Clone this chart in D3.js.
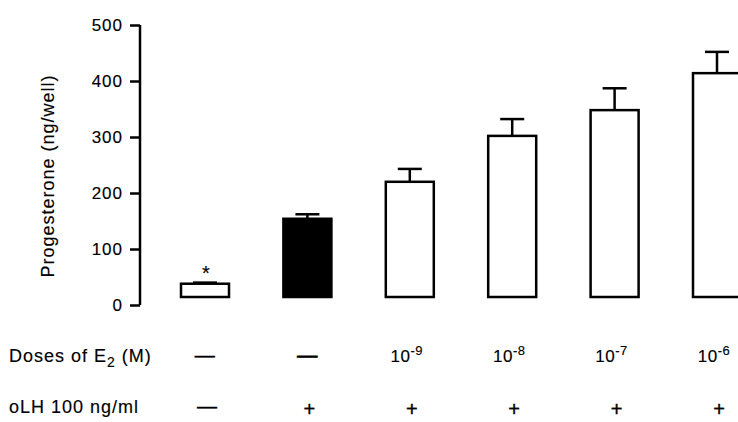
<!DOCTYPE html>
<html>
<head>
<meta charset="utf-8">
<script src="https://cdn.jsdelivr.net/npm/d3@7"></script>
<style>
  body { margin: 0; background: #fff; }
  svg { display: block; }
  text { font-family: "Liberation Sans", Arial, Helvetica, sans-serif; fill: #000; stroke: #000; stroke-width: 0.15px; }
</style>
</head>
<body>
<svg id="chart"></svg>
<script>
// data
const groups = ["ctrl", "LH", "E9", "E8", "E7", "E6"];
const progesterone = [38, 154, 220, 302, 348, 414];
const sem = [2, 8, 23, 30, 39, 38];
const filled = [false, true, false, false, false, false];
const yTicks = [0, 100, 200, 300, 400, 500];
const doseBase = ["—", "—", "10", "10", "10", "10"];
const doseExp = ["", "", "-9", "-8", "-7", "-6"];
const lhRow = ["—", "+", "+", "+", "+", "+"];

const width = 738, height = 422;
const svg = d3.select("#chart").attr("width", width).attr("height", height);

const x = d3.scalePoint().domain(groups).range([205, 717]);
const y = d3.scaleLinear().domain([0, 500]).range([305, 25]);
const barW = 48;
const barFloor = y(0) - 8; // bars sit a bit above the zero tick

// y axis
const axis = svg.append("g")
    .attr("transform", "translate(140,0)")
    .call(d3.axisLeft(y).tickValues(yTicks).tickSize(10).tickPadding(8));
axis.select(".domain").attr("stroke-width", 2.5).attr("d", "M0," + y(500) + "V" + y(0));
axis.selectAll(".tick line").attr("stroke-width", 2.5);
axis.selectAll(".tick text")
    .attr("font-size", 17)
    .style("letter-spacing", "1px")
    .attr("dx", 1)
    .attr("font-family", "Liberation Sans, Arial, sans-serif");

svg.append("text")
    .attr("transform", "translate(54,176) rotate(-90)")
    .attr("text-anchor", "middle")
    .attr("font-size", 18)
    .style("letter-spacing", "1px")
    .text("Progesterone (ng/well)");

// error bars (drawn first so the bar outline covers the stem base)
const err = svg.append("g");
groups.forEach((g, i) => {
  const cx = x(g);
  const top = y(progesterone[i] + sem[i]);
  err.append("line")
     .attr("x1", cx).attr("x2", cx)
     .attr("y1", y(progesterone[i])).attr("y2", top)
     .attr("stroke", "#000").attr("stroke-width", 2.5);
  err.append("line")
     .attr("x1", cx - 12).attr("x2", cx + 12)
     .attr("y1", top).attr("y2", top)
     .attr("stroke", "#000").attr("stroke-width", 2.5);
});

// bars
svg.append("g").selectAll("rect")
  .data(groups)
  .join("rect")
    .attr("x", d => x(d) - barW / 2)
    .attr("y", (d, i) => y(progesterone[i]))
    .attr("width", barW)
    .attr("height", (d, i) => barFloor - y(progesterone[i]))
    .attr("fill", (d, i) => filled[i] ? "#000" : "#fff")
    .attr("stroke", "#000")
    .attr("stroke-width", 2.5);

// significance mark
svg.append("text")
    .attr("x", x(groups[0]) + 1)
    .attr("y", y(progesterone[0] + sem[0]) - 3)
    .attr("text-anchor", "middle")
    .attr("font-size", 20)
    .text("*");

// treatment rows
const row1 = svg.append("text").attr("x", 9).attr("y", 362).attr("font-size", 18)
    .style("letter-spacing", "1px");
row1.append("tspan").text("Doses of E");
row1.append("tspan").attr("font-size", 14).attr("dy", 5).text("2");
row1.append("tspan").attr("dy", -5).text(" (M)");

groups.forEach((g, i) => {
  const t = svg.append("text")
      .attr("x", x(g) - (doseExp[i] ? 3 : 0))
      .attr("y", 362)
      .attr("text-anchor", "middle")
      .attr("font-size", doseExp[i] ? 17 : 20)
      .style("stroke-width", doseExp[i] ? "0.15px" : (i === 1 ? "0.9px" : "0.5px"))
      .style("letter-spacing", "0.5px");
  t.append("tspan").text(doseBase[i]);
  if (doseExp[i]) {
    t.append("tspan").attr("font-size", 13).attr("dy", -7).text(doseExp[i]);
  }
});

svg.append("text").attr("x", 9).attr("y", 413).attr("font-size", 18)
    .style("letter-spacing", "1px")
    .text("oLH 100 ng/ml");

svg.append("g").selectAll("text")
  .data(groups)
  .join("text")
    .attr("x", d => x(d) + 2)
    .attr("y", (d, i) => lhRow[i] === "+" ? 416 : 413)
    .attr("text-anchor", "middle")
    .attr("font-size", 20)
    .style("stroke-width", "0.4px")
    .text((d, i) => lhRow[i]);
</script>
</body>
</html>
